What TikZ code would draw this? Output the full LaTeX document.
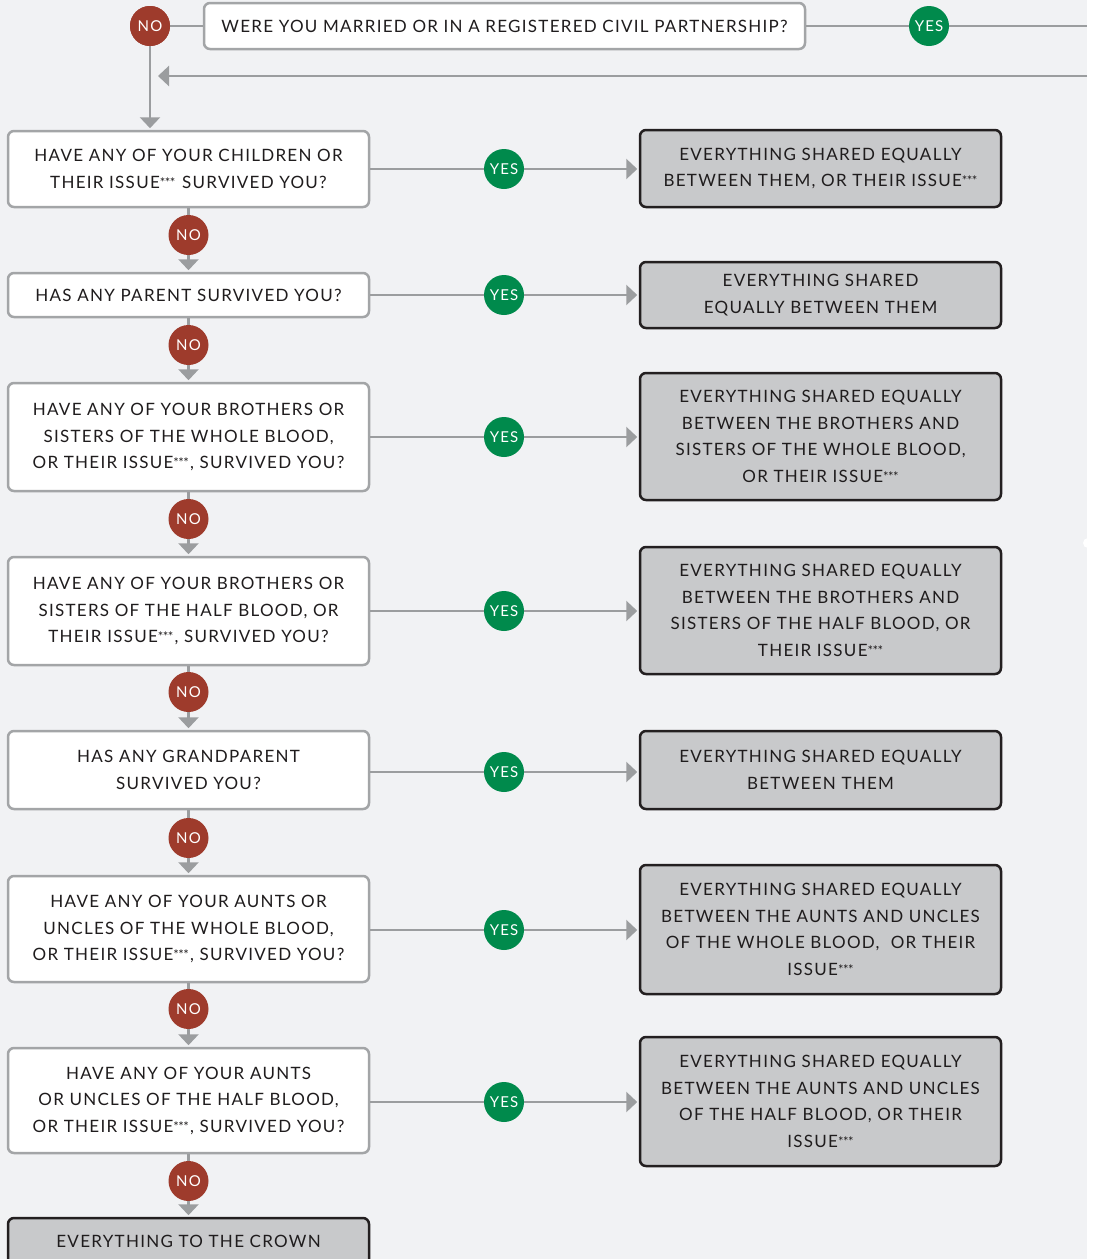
\documentclass[tikz,border=0pt]{standalone}
\usepackage{fontspec}
\setmainfont{Lato}[LetterSpace=7.5]
\usetikzlibrary{arrows.meta}
\definecolor{bg}{HTML}{F1F2F4}
\definecolor{wirecol}{HTML}{9B9D9F}
\definecolor{qedge}{HTML}{A3A5A7}
\definecolor{afill}{HTML}{C8C9CB}
\definecolor{aedge}{HTML}{231F20}
\definecolor{ink}{HTML}{1F1C1D}
\definecolor{nored}{HTML}{9E3B2C}
\definecolor{yesgreen}{HTML}{008A4C}
% tight, raised footnote asterisks
\newcommand\stars{{\fontsize{13}{13}\selectfont\addfontfeature{LetterSpace=-4}\raisebox{1pt}{***}\hspace{1.2pt}}}
\tikzset{
  boxtext/.style={align=center, text=ink, inner sep=0pt, rounded corners=6pt,
    font=\fontsize{17}{26.5}\selectfont, line width=2.5pt},
  qbox/.style={boxtext, draw=qedge, fill=white, minimum width=361pt},
  abox/.style={boxtext, draw=aedge, fill=afill, minimum width=361pt},
  badge/.style={circle, minimum size=40pt, inner sep=0pt, text=white,
    font=\fontsize{15}{15}\selectfont},
  nobadge/.style={badge, fill=nored},
  yesbadge/.style={badge, fill=yesgreen},
  wire/.style={draw=wirecol, line width=2.5pt},
  arr/.style={wire, -{Triangle[width=20pt,length=11pt]}, shorten >=1.5pt},
}
\begin{document}
\begin{tikzpicture}[x=1pt,y=-1pt]
  % canvas
  \useasboundingbox (0,0) rectangle (1093,1259);
  \fill[white] (0,0) rectangle (1093,1259);
  \fill[bg] (0,0) rectangle (1087,1259);
  \fill[white] (1088,543) circle (5pt);

  % top question
  \node[qbox, minimum width=601pt, minimum height=46pt] (q0) at (504.5,26)
    {WERE YOU MARRIED OR IN A REGISTERED CIVIL PARTNERSHIP?};
  \coordinate (topend) at (1087,26);
  \coordinate (retstart) at (1087,76);
  \coordinate (retend) at (158,76);

  % question column
  \node[qbox, minimum height=76pt] (q1) at (188.5,169)
    {HAVE ANY OF YOUR CHILDREN OR\\THEIR ISSUE\stars{} SURVIVED YOU?};
  \node[qbox, minimum height=44pt] (q2) at (188.5,295)
    {HAS ANY PARENT SURVIVED YOU?};
  \node[qbox, minimum height=108pt] (q3) at (188.5,437)
    {HAVE ANY OF YOUR BROTHERS OR\\SISTERS OF THE WHOLE BLOOD,\\OR THEIR ISSUE\stars, SURVIVED YOU?};
  \node[qbox, minimum height=108pt] (q4) at (188.5,611)
    {HAVE ANY OF YOUR BROTHERS OR\\SISTERS OF THE HALF BLOOD, OR\\THEIR ISSUE\stars, SURVIVED YOU?};
  \node[qbox, minimum height=78pt] (q5) at (188.5,770)
    {HAS ANY GRANDPARENT\\SURVIVED YOU?};
  \node[qbox, minimum height=106pt] (q6) at (188.5,929)
    {HAVE ANY OF YOUR AUNTS OR\\UNCLES OF THE WHOLE BLOOD,\\OR THEIR ISSUE\stars, SURVIVED YOU?};
  \node[qbox, minimum height=105pt] (q7) at (188.5,1100.5)
    {HAVE ANY OF YOUR AUNTS\\OR UNCLES OF THE HALF BLOOD,\\OR THEIR ISSUE\stars, SURVIVED YOU?};
  \node[abox, minimum height=80pt] (q8) at (188.5,1258)
    {EVERYTHING TO THE CROWN\\[7pt]\mbox{}};

  % outcome column
  \node[abox, minimum height=77pt] (r1) at (820.5,168.5)
    {EVERYTHING SHARED EQUALLY\\BETWEEN THEM, OR THEIR ISSUE\stars};
  \node[abox, minimum height=66pt] (r2) at (820.5,295)
    {EVERYTHING SHARED\\EQUALLY BETWEEN THEM};
  \node[abox, minimum height=127pt] (r3) at (820.5,436.5)
    {EVERYTHING SHARED EQUALLY\\BETWEEN THE BROTHERS AND\\SISTERS OF THE WHOLE BLOOD,\\OR THEIR ISSUE\stars};
  \node[abox, minimum height=127pt] (r4) at (820.5,610.5)
    {EVERYTHING SHARED EQUALLY\\BETWEEN THE BROTHERS AND\\SISTERS OF THE HALF BLOOD, OR\\THEIR ISSUE\stars};
  \node[abox, minimum height=78pt] (r5) at (820.5,770)
    {EVERYTHING SHARED EQUALLY\\BETWEEN THEM};
  \node[abox, minimum height=129pt] (r6) at (820.5,929.5)
    {EVERYTHING SHARED EQUALLY\\BETWEEN THE AUNTS AND UNCLES\\OF THE WHOLE BLOOD,\ \ OR THEIR\\ISSUE\stars};
  \node[abox, minimum height=129pt] (r7) at (820.5,1101.5)
    {EVERYTHING SHARED EQUALLY\\BETWEEN THE AUNTS AND UNCLES\\OF THE HALF BLOOD, OR THEIR\\ISSUE\stars};

  % top-level connectors
  \node[nobadge] (no0) at (150,26) {NO};
  \draw[wire] (no0) -- (q0.west);
  \draw[wire] (q0.east) -- (topend);
  \draw[arr, shorten >=0pt] (retstart) -- (retend);
  \draw[arr] (no0) -- (no0 |- q1.north);
  \node[nobadge] at (no0) {NO};
  \node[yesbadge] (yes0) at (929,26) {YES};

  % yes / no connectors
  \foreach \a/\b/\y in {1/2/235, 2/3/345, 3/4/519, 4/5/692, 5/6/838, 6/7/1009, 7/8/1181} {
    \draw[arr] (q\a.south) -- (q\b.north);
    \node[nobadge] (no\a) at (188.5,\y) {NO};
  }
  \foreach \a/\y in {1/169, 2/295, 3/437, 4/611, 5/772, 6/930, 7/1102} {
    \draw[arr] (q\a.east |- 0,\y) -- (r\a.west |- 0,\y);
    \node[yesbadge] (yes\a) at (504,\y) {YES};
  }
\end{tikzpicture}
\end{document}
